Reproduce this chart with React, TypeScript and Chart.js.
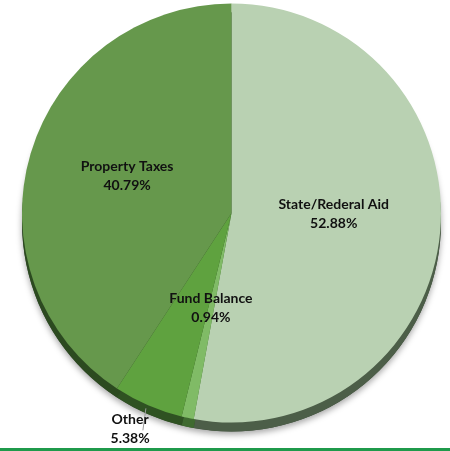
import React, { useEffect, useRef } from "react";
import { Chart, registerables } from "chart.js";

Chart.register(...registerables);

const categories = ["State/Rederal Aid", "Fund Balance", "Other", "Property Taxes"];
const shares = [52.88, 0.94, 5.38, 40.79];
const shareLabels = ["52.88%", "0.94%", "5.38%", "40.79%"];
const sliceColors = ["#b9d1b2", "#80bb66", "#5fa23f", "#66984c"];
const rimColors = ["#4c5e48", "#3f6a30", "#2f5222", "#2c4a20"];
const labelRadius = [0.49, 0.47, 1.12, 0.52];
const labelShiftY = [-8, -1, 1, -6];
const outsideLabel = [false, false, true, false];

const rimPlugin = {
  id: "rim3d",
  beforeDatasetsDraw(chart: any) {
    const ctx = chart.ctx;
    const meta = chart.getDatasetMeta(0);
    const depth = 9;
    ctx.save();
    const a0 = meta.data[0];
    ctx.beginPath();
    ctx.arc(a0.x, a0.y + depth, a0.outerRadius, 0, Math.PI * 2);
    ctx.shadowColor = "rgba(0,0,0,0.35)";
    ctx.shadowBlur = 6;
    ctx.shadowOffsetY = 3;
    ctx.fillStyle = "#3a4a36";
    ctx.fill();
    ctx.shadowColor = "transparent";
    meta.data.forEach((arc: any, i: number) => {
      ctx.beginPath();
      ctx.moveTo(arc.x, arc.y + depth);
      ctx.arc(arc.x, arc.y + depth, arc.outerRadius, arc.startAngle, arc.endAngle);
      ctx.closePath();
      ctx.fillStyle = rimColors[i];
      ctx.fill();
    });
    ctx.restore();
  },
  afterDatasetsDraw(chart: any) {
    const ctx = chart.ctx;
    const meta = chart.getDatasetMeta(0);
    ctx.save();
    ctx.font = "bold 14px Lato, 'Open Sans', sans-serif";
    ctx.fillStyle = "#111111";
    ctx.textAlign = "center";
    ctx.textBaseline = "middle";
    meta.data.forEach((arc: any, i: number) => {
      const mid = (arc.startAngle + arc.endAngle) / 2;
      const r = arc.outerRadius * labelRadius[i];
      const x = arc.x + Math.cos(mid) * r;
      const y = arc.y + Math.sin(mid) * r + labelShiftY[i];
      if (outsideLabel[i]) {
        const ex = arc.x + Math.cos(mid) * (arc.outerRadius - 2);
        const ey = arc.y + Math.sin(mid) * (arc.outerRadius - 2);
        ctx.strokeStyle = "#9a9a9a";
        ctx.lineWidth = 1;
        ctx.beginPath();
        ctx.moveTo(ex - 3, ey + 5);
        ctx.lineTo(ex - 6, ey + 27);
        ctx.stroke();
        ctx.fillText(categories[i], x - 8, y - 9.5);
        ctx.fillText(shareLabels[i], x - 8, y + 9);
      } else {
        ctx.fillText(categories[i], x, y - 9.5);
        ctx.fillText(shareLabels[i], x, y + 9.5);
      }
    });
    ctx.restore();
  },
};

export default function App() {
  const ref = useRef<HTMLCanvasElement>(null);
  useEffect(() => {
    if (!ref.current) return;
    const chart = new Chart(ref.current, {
      type: "pie",
      data: {
        labels: categories,
        datasets: [
          {
            data: shares,
            backgroundColor: sliceColors,
            borderWidth: 0,
          },
        ],
      },
      options: {
        responsive: false,
        animation: false,
        layout: { padding: { left: 22, right: 9, top: 3, bottom: 28 } },
        plugins: {
          legend: { display: false },
          tooltip: { enabled: false },
        },
      },
      plugins: [rimPlugin],
    });
    return () => chart.destroy();
  }, []);
  return (
    <div style={{ position: "absolute", left: 0, top: 0, width: 450, height: 451, background: "#fff" }}>
      <canvas ref={ref} width={450} height={451} style={{ display: "block" }} />
      <div style={{ position: "absolute", left: 0, top: 448, width: 450, height: 3, background: "#1f9a4b" }} />
    </div>
  );
}
